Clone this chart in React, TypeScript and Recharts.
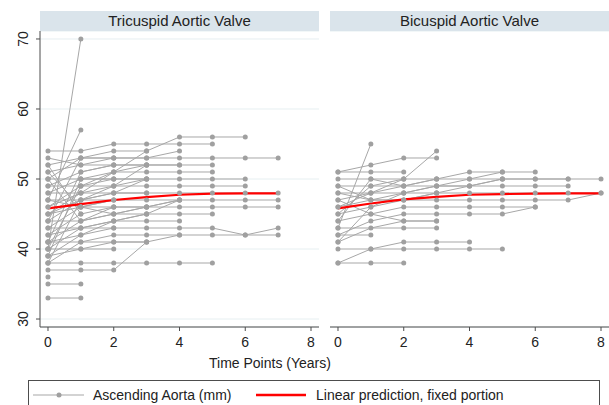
import React from "react";
import { CartesianGrid, Line, LineChart, XAxis, YAxis } from "recharts";

// years since baseline; each row is one patient, index = year (null = no scan)
const yearTicks = [0, 2, 4, 6, 8];
const diameterTicks = [30, 40, 50, 60, 70];

const tricuspid: (number | null)[][] = [
  [40, 70],
  [47, 57],
  [54, 54, 55, 55, 55, 55],
  [50, 53, 54, 54, 56, 56, 56],
  [52, 53, 53, 53, 54],
  [51, 52, 53, 53, 53, 53, 53, 53],
  [49, 51, 52, 52, 52, 52],
  [48, 50, 51, 51, 51, 51],
  [46, 49, 50, 50, 50, 50, 50],
  [45, 48, 49, 49, 49, 49, 49],
  [44, 47, 48, 48, 48, 48, 48, 48],
  [43, 46, 47, 47, 47, 47, 47, 47],
  [42, 45, 46, 46, 46, 46, 46, 46],
  [41, 44, 45, 45, 45, 45],
  [40, 43, 44, 44, 44],
  [39, 42, 43, 43, 43, 43, 42, 43],
  [38, 41, 42, 42, 42, 42, 42, 42],
  [37, 37, 37, 41, 42],
  [38, 38, 38, 38, 38, 38],
  [35, 35],
  [33, 33],
  [36],
  [40, 40, 40],
  [41, 41, 41, 41],
  [53, 52, 52, 52],
  [50, 50, 50, 50],
  [49, 49, 49, 50],
  [48, 48, 48, 48],
  [47, 47, 47],
  [45, 46, 46, 46],
  [44, 44, 45, 46, 47],
  [43, 43, 44, 45],
  [42, 43, 43],
  [41, 42, 44, 45, 47],
  [39, 40, 41, 41],
  [39, 50, 50],
  [40, 49, 51, 52],
  [38, 47, 48, 50],
  [41, 51, 52],
  [44, 53, 53],
  [51, 46, 47],
  [52, 45],
  [50, 44, 46],
  [46, 48, 51, 54],
  [45, 47, 49, 52, 52],
  [47, 46, 45, 46, 47],
];

const bicuspid: (number | null)[][] = [
  [43, 55],
  [51, 52, 53, 53],
  [51, 51, 51],
  [46, 48, 50, 54],
  [50, 50, 50, 50, 50, 50, 50, 50, 50],
  [49, 49, 49, 50, 51, 51, 51],
  [48, 48, 49, 49, 49, 50, 50, 50],
  [47, 48, 48, 48, 49, 49, 49, 49],
  [46, 47, 47, 48, 48, 48, 48, 48, 48],
  [45, 46, 47, 47, 47, 47, 47, 47, 48],
  [44, 45, 46, 46, 46, 46, 46],
  [42, 44, 45, 45, 45, 45, 46],
  [41, 43, 44, 44],
  [42, 42],
  [43, null, 43, 43],
  [38, 40, 41, 41, 41],
  [40, 40, 40, 40, 40, 40],
  [38, 38, 38],
  [49, 47, 48, 49, 50, 51],
  [41, 46, 48, 49, 49, 50],
  [45, 49, 50],
  [44, 50, 49, 50],
  [47, 45, 44, 44],
  [48, 47, 47, 48],
];

const tricuspidFit = [45.8, 46.4, 47.0, 47.4, 47.75, 47.9, 47.95, 47.95];
const bicuspidFit = [45.8, 46.5, 47.1, 47.45, 47.75, 47.85, 47.9, 47.95, 47.95];

const FONT = '"Liberation Sans", Arial, sans-serif';
const GREY = "#a7a7a7";
const AXIS = "#4d4d4d";
const GRID = "#e6eff1";

const toPoints = (vals: (number | null)[]) =>
  vals
    .map((v, i) => ({ t: i, v }))
    .filter((p) => p.v !== null);

const RotatedTick = (props: any) => {
  const { x, y, payload } = props;
  const bx = x - 6;
  return (
    <text
      x={bx}
      y={y}
      transform={`rotate(-90, ${bx}, ${y})`}
      textAnchor="middle"
      fill="#222"
      fontSize={14}
      fontFamily={FONT}
    >
      {payload.value}
    </text>
  );
};

function Panel({
  rows,
  fit,
  showY,
  width,
}: {
  rows: (number | null)[][];
  fit: number[];
  showY: boolean;
  width: number;
}) {
  return (
    <LineChart
      width={width}
      height={352}
      margin={{ top: 31, right: showY ? 1 : 0, left: 0, bottom: 7 }}
    >
      <CartesianGrid vertical={false} stroke={GRID} />
      <XAxis
        dataKey="t"
        type="number"
        domain={[-0.243, 8.243]}
        ticks={yearTicks}
        allowDuplicatedCategory={false}
        height={18}
        tickSize={4}
        tickMargin={6}
        stroke={AXIS}
        tick={{ fill: "#222", fontSize: 14, fontFamily: FONT }}
      />
      <YAxis
        type="number"
        domain={[28.86, 71.14]}
        ticks={diameterTicks}
        width={showY ? 40 : 0}
        axisLine={showY ? { stroke: AXIS } : false}
        tickLine={showY ? { stroke: AXIS } : false}
        tickSize={4}
        tick={showY ? <RotatedTick /> : false}
      />
      {rows.map((r, i) => (
        <Line
          key={`p-${i}`}
          data={toPoints(r)}
          dataKey="v"
          stroke={GREY}
          strokeWidth={1}
          dot={{ r: 2.5, fill: "#a0a0a0", stroke: "none" }}
          activeDot={false}
          isAnimationActive={false}
        />
      ))}
      <Line
        data={toPoints(fit)}
        dataKey="v"
        stroke="#ff0000"
        strokeWidth={2.2}
        dot={false}
        activeDot={false}
        isAnimationActive={false}
      />
    </LineChart>
  );
}

const strip: React.CSSProperties = {
  position: "absolute",
  top: 11,
  height: 20,
  width: 279,
  background: "#dae4eb",
  fontSize: 15,
  lineHeight: "20px",
  textAlign: "center",
  color: "#222",
};

export default function App() {
  return (
    <div
      style={{
        position: "absolute",
        left: 0,
        top: 0,
        width: 609,
        height: 405,
        overflow: "hidden",
        background: "#fff",
        fontFamily: FONT,
      }}
    >
      <div style={{ position: "absolute", left: 0, top: 0 }}>
        <Panel rows={tricuspid} fit={tricuspidFit} showY width={320} />
      </div>
      <div style={{ position: "absolute", left: 330, top: 0 }}>
        <Panel rows={bicuspid} fit={bicuspidFit} showY={false} width={279} />
      </div>
      <div style={{ ...strip, left: 40 }}>Tricuspid Aortic Valve</div>
      <div style={{ ...strip, left: 330 }}>Bicuspid Aortic Valve</div>
      <div
        style={{
          position: "absolute",
          left: 209,
          top: 355,
          fontSize: 14,
          lineHeight: "16px",
          color: "#222",
          whiteSpace: "nowrap",
        }}
      >
        Time Points (Years)
      </div>
      <div
        style={{
          position: "absolute",
          left: 28,
          top: 380,
          width: 572,
          height: 40,
          border: `1px solid ${AXIS}`,
          boxSizing: "border-box",
        }}
      >
        <svg
          width={570}
          height={30}
          style={{ position: "absolute", left: 0, top: 0 }}
        >
          <line x1={4} x2={55} y1={14} y2={14} stroke={GREY} strokeWidth={1} />
          <circle cx={30} cy={14} r={2.5} fill="#a0a0a0" />
          <text x={64} y={19} fontSize={14} fontFamily={FONT} fill="#222">
            Ascending Aorta (mm)
          </text>
          <line
            x1={227}
            x2={277}
            y1={14}
            y2={14}
            stroke="#ff0000"
            strokeWidth={2.5}
          />
          <text x={287} y={19} fontSize={14} fontFamily={FONT} fill="#222">
            Linear prediction, fixed portion
          </text>
        </svg>
      </div>
    </div>
  );
}
